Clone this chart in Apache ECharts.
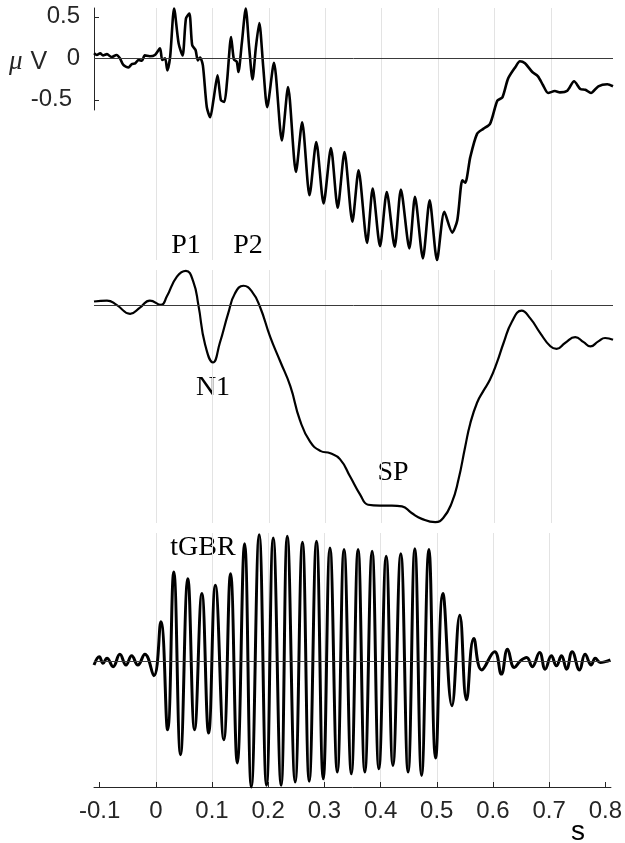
<!DOCTYPE html>
<html>
<head>
<meta charset="utf-8">
<script src="https://cdn.jsdelivr.net/npm/echarts@6/dist/echarts.min.js"></script>
<style>
  html, body { margin: 0; padding: 0; background: #fff; }
  #chart { width: 625px; height: 843px; }
</style>
</head>
<body>
<div id="chart"></div>
<script>
// Time axis ticks (s) and voltage ticks (µV)
const timeTicks = [-0.1, 0, 0.1, 0.2, 0.3, 0.4, 0.5, 0.6, 0.7, 0.8];
const voltTicks = [-0.5, 0, 0.5];

// Raw averaged response
const rawT = [-0.110, -0.105, -0.099, -0.094, -0.087, -0.079, -0.070, -0.064, -0.058, -0.049,
  -0.043, -0.037, -0.031, -0.025, -0.020, -0.011, -0.002, 0.007, 0.011, 0.016,
  0.020, 0.025, 0.032, 0.040, 0.047, 0.053, 0.059, 0.064, 0.070, 0.074,
  0.078, 0.083, 0.090, 0.096, 0.102, 0.109, 0.115, 0.121, 0.126, 0.133,
  0.138, 0.143, 0.146, 0.152, 0.159, 0.165, 0.171, 0.177, 0.183, 0.190,
  0.197, 0.209, 0.223, 0.234, 0.248, 0.259, 0.272, 0.284, 0.297, 0.310,
  0.322, 0.334, 0.348, 0.359, 0.374, 0.384, 0.397, 0.409, 0.423, 0.434,
  0.449, 0.459, 0.473, 0.485, 0.498, 0.511, 0.525, 0.534, 0.543, 0.548,
  0.557, 0.569, 0.580, 0.592, 0.605, 0.614, 0.624, 0.637, 0.645, 0.654,
  0.667, 0.677, 0.686, 0.695, 0.707, 0.716, 0.729, 0.741, 0.752, 0.761,
  0.771, 0.784, 0.800, 0.810];
const rawV = [0.06, 0.04, 0.06, 0.035, 0.05, 0.015, 0.04, 0.00, -0.08, -0.11,
  -0.07, -0.06, -0.02, -0.03, 0.035, 0.025, 0.04, 0.12, -0.02, 0.00,
  -0.145, 0.02, 0.60, 0.18, 0.035, 0.48, 0.54, 0.16, 0.10, -0.025,
  0.01, -0.085, -0.59, -0.71, -0.49, -0.205, -0.505, -0.525, -0.265, 0.255,
  -0.015, -0.04, -0.165, 0.18, 0.60, 0.135, -0.255, 0.135, 0.425, -0.105,
  -0.59, -0.055, -0.99, -0.345, -1.37, -0.77, -1.65, -1.01, -1.75, -1.08,
  -1.80, -1.13, -1.97, -1.35, -2.225, -1.57, -2.265, -1.61, -2.27, -1.58,
  -2.29, -1.67, -2.41, -1.71, -2.43, -1.85, -2.10, -1.95, -1.47, -1.50,
  -1.19, -0.91, -0.85, -0.79, -0.51, -0.47, -0.245, -0.105, -0.035, -0.06,
  -0.165, -0.217, -0.325, -0.418, -0.394, -0.41, -0.39, -0.277, -0.37, -0.38,
  -0.418, -0.337, -0.313, -0.337];

// Low-pass filtered response (P1, N1, P2, SP)
const erpT = [-0.110, -0.087, -0.070, -0.046, -0.028, -0.011, 0.009, 0.019, 0.037, 0.053,
  0.066, 0.075, 0.087, 0.101, 0.113, 0.128, 0.140, 0.155, 0.170, 0.184,
  0.202, 0.220, 0.238, 0.255, 0.273, 0.291, 0.309, 0.326, 0.344, 0.362,
  0.376, 0.397, 0.418, 0.436, 0.453, 0.471, 0.495, 0.509, 0.524, 0.536,
  0.548, 0.557, 0.569, 0.580, 0.592, 0.604, 0.616, 0.631, 0.648, 0.663,
  0.681, 0.699, 0.710, 0.725, 0.743, 0.758, 0.770, 0.784, 0.796, 0.810];
const erpV = [0.04, 0.052, 0.0, -0.108, -0.03, 0.052, 0.0, 0.10, 0.34, 0.41,
  0.28, 0.0, -0.48, -0.695, -0.46, -0.10, 0.14, 0.23, 0.16, -0.02,
  -0.38, -0.68, -0.98, -1.39, -1.65, -1.76, -1.79, -1.86, -2.07, -2.29,
  -2.41, -2.42, -2.42, -2.43, -2.51, -2.58, -2.62, -2.57, -2.39, -2.11,
  -1.71, -1.43, -1.18, -1.04, -0.90, -0.70, -0.46, -0.20, -0.07, -0.16,
  -0.34, -0.50, -0.53, -0.46, -0.39, -0.45, -0.50, -0.44, -0.40, -0.42];

// Band-pass filtered response (tGBR), extrema of each half cycle
const gammaT = [-0.110, -0.1005, -0.094, -0.087, -0.076, -0.064, -0.053, -0.043, -0.032, -0.0195,
  -0.0035, 0.009, 0.021, 0.032, 0.044, 0.057, 0.069, 0.082, 0.094, 0.106,
  0.121, 0.133, 0.145, 0.158, 0.170, 0.184, 0.197, 0.209, 0.223, 0.234,
  0.248, 0.261, 0.273, 0.286, 0.298, 0.310, 0.323, 0.335, 0.348, 0.360,
  0.372, 0.385, 0.397, 0.410, 0.422, 0.436, 0.449, 0.461, 0.473, 0.486,
  0.498, 0.511, 0.527, 0.541, 0.553, 0.566, 0.580, 0.603, 0.615, 0.626,
  0.638, 0.649, 0.660, 0.670, 0.683, 0.693, 0.704, 0.713, 0.722, 0.731,
  0.741, 0.754, 0.764, 0.775, 0.782, 0.791, 0.800, 0.809];
const gammaV = [-0.04, 0.06, -0.02, 0.04, -0.06, 0.09, -0.04, 0.07, -0.04, 0.09,
  -0.17, 0.48, -0.82, 1.08, -1.12, 1.00, -0.82, 0.82, -0.86, 0.92,
  -0.94, 1.06, -1.22, 1.42, -1.51, 1.53, -1.49, 1.49, -1.49, 1.51,
  -1.45, 1.44, -1.44, 1.45, -1.41, 1.37, -1.33, 1.35, -1.35, 1.35,
  -1.33, 1.33, -1.29, 1.27, -1.25, 1.30, -1.33, 1.36, -1.37, 1.35,
  -1.16, 0.82, -0.53, 0.56, -0.46, 0.28, -0.10, 0.12, -0.15, 0.15,
  -0.07, 0.01, 0.05, -0.06, 0.11, -0.09, 0.07, -0.05, 0.07, -0.09,
  0.12, -0.10, 0.09, -0.04, 0.04, -0.01, 0.0, 0.02];

const pairs = (xs, ys) => xs.map((x, i) => [x, ys[i]]);

const AXIS_COLOR = '#262626';
const GRID_COLOR = '#e3e3e3';
const SANS = 'Liberation Sans, Arial, Helvetica, sans-serif';
const SERIF = 'Liberation Serif, Times New Roman, serif';
const LEFT = 94, WIDTH = 519;

function timeAxis(gridIndex, withLabels) {
  return {
    type: 'value', gridIndex,
    min: -0.11, max: 0.81, minInterval: 0.1, maxInterval: 0.1,
    axisLine: { show: withLabels, onZero: false, lineStyle: { color: AXIS_COLOR, width: 1 } },
    axisTick: { show: withLabels, inside: true, length: 5, customValues: timeTicks,
                lineStyle: { color: AXIS_COLOR, width: 1 } },
    axisLabel: { show: withLabels, customValues: timeTicks, margin: 12,
                 fontFamily: SANS, fontSize: 24, color: AXIS_COLOR },
    splitLine: { show: true, showMinLine: false, showMaxLine: false,
                 lineStyle: { color: GRID_COLOR, width: 1 } }
  };
}

function zeroLine() {
  return {
    silent: true, symbol: ['none', 'none'], animation: false,
    label: { show: false },
    lineStyle: { color: '#3a3a3a', width: 1, type: 'solid' },
    data: [{ yAxis: 0 }]
  };
}

function trace(name, idx, data, width, smooth) {
  return {
    name, type: 'line', xAxisIndex: idx, yAxisIndex: idx, data,
    showSymbol: false, smooth, clip: false,
    lineStyle: { color: '#000', width },
    markLine: zeroLine(), z: 3
  };
}

const chart = echarts.init(document.getElementById('chart'), null, { renderer: 'canvas' });

const textStyle = (text, x, y, font, size) => ({
  type: 'text', x, y,
  style: { text, fill: '#000', font: size + 'px ' + font, align: 'center', verticalAlign: 'middle' }
});

chart.setOption({
  backgroundColor: '#fff',
  animation: false,
  grid: [
    { left: LEFT, width: WIDTH, top: 8, height: 252 },
    { left: LEFT, width: WIDTH, top: 270, height: 253 },
    { left: LEFT, width: WIDTH, top: 533, height: 254 },
    { left: LEFT, width: WIDTH, top: 8, height: 102 }
  ],
  xAxis: [
    timeAxis(0, false),
    timeAxis(1, false),
    timeAxis(2, true),
    { type: 'value', gridIndex: 3, min: -0.11, max: 0.81, show: false }
  ],
  yAxis: [
    { type: 'value', gridIndex: 0, min: -2.43, max: 0.606, show: false },
    { type: 'value', gridIndex: 1, min: -2.63, max: 0.42, show: false },
    { type: 'value', gridIndex: 2, min: -1.51, max: 1.55, show: false },
    {
      type: 'value', gridIndex: 3, min: -0.623, max: 0.606,
      axisLine: { show: true, onZero: false, lineStyle: { color: AXIS_COLOR, width: 1 } },
      axisTick: { show: true, inside: true, length: 5, customValues: voltTicks,
                  lineStyle: { color: AXIS_COLOR, width: 1 } },
      axisLabel: {
        show: true, customValues: voltTicks, margin: 14,
        fontFamily: SANS, fontSize: 24, color: AXIS_COLOR,
        formatter: v => (v < 0 ? '{neg|' + v + '}' : String(v)),
        rich: { neg: { fontFamily: SANS, fontSize: 24, color: AXIS_COLOR, padding: [0, 8, 0, 0] } }
      },
      splitLine: { show: false }
    }
  ],
  series: [
    trace('raw', 0, pairs(rawT, rawV), 2.6, 0.25),
    trace('erp', 1, pairs(erpT, erpV), 2.2, 0.5),
    trace('tgbr', 2, pairs(gammaT, gammaV), 3, 0.45)
  ],
  graphic: [
    textStyle('P1', 186, 246, SERIF, 28),
    textStyle('P2', 248, 246, SERIF, 28),
    textStyle('N1', 213, 388, SERIF, 28),
    textStyle('SP', 393, 473, SERIF, 28),
    textStyle('tGBR', 203, 548, SERIF, 28),
    textStyle('s', 578, 832, SANS, 28),
    {
      type: 'text', x: 9, y: 62,
      style: {
        text: '{m|μ}{v|V}', verticalAlign: 'middle', align: 'left',
        rich: {
          m: { font: 'italic 27px ' + SERIF, fill: AXIS_COLOR, padding: [0, 8, 0, 0] },
          v: { font: '25px ' + SANS, fill: AXIS_COLOR }
        }
      }
    }
  ]
});
</script>
</body>
</html>
